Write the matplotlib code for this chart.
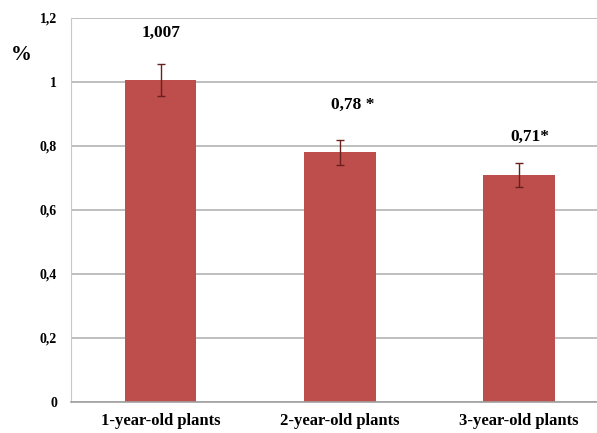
import matplotlib.pyplot as plt
from matplotlib.ticker import FuncFormatter

categories = ["1-year-old plants", "2-year-old plants", "3-year-old plants"]
values = [1.007, 0.78, 0.71]
errors = [0.05, 0.04, 0.037]
value_labels = ["1,007", "0,78 *", "0,71*"]
label_heights = [1.153, 0.928, 0.828]

BAR_COLOR = "#bd4e4b"
SERIF = ["Liberation Serif", "DejaVu Serif"]

plt.rcParams["font.family"] = SERIF
plt.rcParams["font.weight"] = "bold"

fig = plt.figure(figsize=(5.97, 4.33), dpi=100)
ax = fig.add_axes([71 / 597, 31 / 433, 1 - 71 / 597, 384 / 433])

x = range(len(categories))
ax.bar(x, values, width=0.40, color=BAR_COLOR, zorder=2)
ax.errorbar(x, values, yerr=errors, fmt="none", ecolor="#6b2020",
            elinewidth=1, capsize=3, capthick=1, zorder=3)

offsets = [0.0, 0.07, 0.06]
for i, (lab, h) in enumerate(zip(value_labels, label_heights)):
    ax.text(i + offsets[i], h, lab, ha="center", va="center",
            fontsize=12.5, fontweight="bold")

ax.set_ylim(0, 1.2)
ax.set_xlim(-0.5, 2.436)
ax.set_yticks([0, 0.2, 0.4, 0.6, 0.8, 1.0, 1.2])
ax.yaxis.set_major_formatter(FuncFormatter(
    lambda v, _: "0" if v == 0 else ("1" if abs(v - 1) < 1e-9 else f"{v:.1f}".replace(".", ","))))
ax.set_xticks(list(x))
ax.set_xticklabels(categories, fontsize=12, fontweight="bold")
ax.tick_params(axis="both", length=0)
ax.tick_params(axis="y", labelsize=10, pad=10)
ax.tick_params(axis="x", pad=8)

ax.grid(axis="y", color="#b4b4b4", linewidth=1.2, zorder=0)
ax.set_axisbelow(True)
for side in ["top", "right"]:
    ax.spines[side].set_visible(False)
ax.spines["left"].set_color("#c8c8c8")
ax.spines["bottom"].set_color("#a0a0a0")
ax.spines["bottom"].set_linewidth(1.2)

fig.text(21 / 597, 1 - 55 / 433, "%", fontsize=15, fontweight="bold",
         ha="center", va="center")

fig.savefig("out.png", dpi=100)
